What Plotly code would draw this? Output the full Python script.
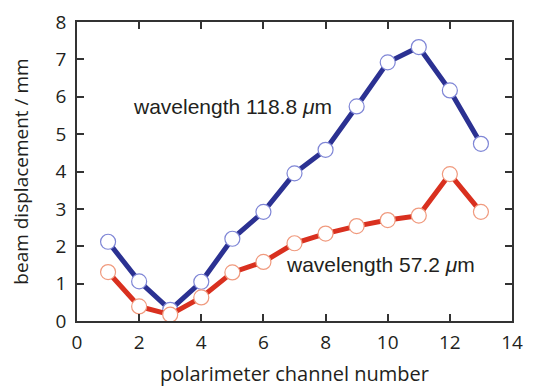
import plotly.graph_objects as go

channels = list(range(1, 14))
disp_118 = [2.12, 1.06, 0.30, 1.05, 2.20, 2.92, 3.95, 4.58, 5.74, 6.92, 7.33, 6.17, 4.74]
disp_57 = [1.31, 0.39, 0.17, 0.63, 1.30, 1.58, 2.08, 2.34, 2.54, 2.70, 2.82, 3.93, 2.92]
x_ticks = [0, 2, 4, 6, 8, 10, 12, 14]
y_ticks = [0, 1, 2, 3, 4, 5, 6, 7, 8]

BLUE = "#2B3192"
BLUE_M = "#7F86D6"
RED = "#D9301F"
RED_M = "#F09A7E"
TXT = "#231F20"

fig = go.Figure()
fig.add_trace(go.Scatter(
    x=channels, y=disp_118, mode="lines+markers", cliponaxis=False,
    line=dict(color=BLUE, width=5),
    marker=dict(symbol="circle", size=15, color="white", line=dict(color=BLUE_M, width=1.2)),
    showlegend=False))
fig.add_trace(go.Scatter(
    x=channels, y=disp_57, mode="lines+markers", cliponaxis=False,
    line=dict(color=RED, width=5),
    marker=dict(symbol="circle", size=15, color="white", line=dict(color=RED_M, width=1.2)),
    showlegend=False))

fig.add_annotation(x=4.99, y=5.73, text="wavelength 118.8 <i>μ</i>m", showarrow=False,
                   font=dict(family="Liberation Sans, Arial", size=21, color=TXT))
fig.add_annotation(x=9.78, y=1.50, text="wavelength 57.2 <i>μ</i>m", showarrow=False,
                   font=dict(family="Liberation Sans, Arial", size=21, color=TXT))

axis_common = dict(showline=True, linecolor="#333333", linewidth=1.5, mirror="ticks",
                   ticks="inside", ticklen=7, tickwidth=1.5, tickcolor="#333333",
                   showgrid=False, zeroline=False, automargin=False,
                   tickfont=dict(family="Open Sans, Noto Sans", size=19, color=TXT))

fig.update_xaxes(range=[0, 14], tickvals=x_ticks, ticktext=[str(v) for v in x_ticks],
                 ticklabelstandoff=3,
                 title=dict(text="polarimeter channel number", standoff=14,
                            font=dict(family="Open Sans, Noto Sans", size=20, color=TXT)),
                 **axis_common)
fig.update_yaxes(range=[0, 8], tickvals=y_ticks, ticktext=[str(v) for v in y_ticks],
                 ticklabelstandoff=5,
                 title=dict(text="beam displacement / mm", standoff=26,
                            font=dict(family="Open Sans, Noto Sans", size=19, color=TXT)),
                 **axis_common)

fig.update_layout(width=533, height=379, margin=dict(l=69, r=29, t=14, b=66),
                  plot_bgcolor="white", paper_bgcolor="white")

fig.write_html("out.html")
